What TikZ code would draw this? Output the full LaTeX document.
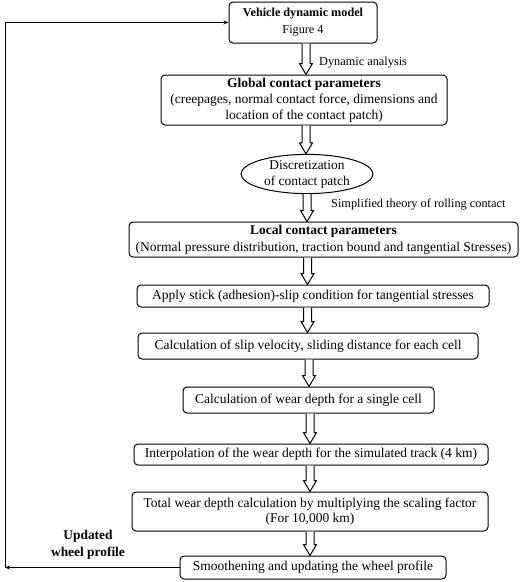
\documentclass[tikz,border=0pt]{standalone}
\usepackage{fontspec}
\setmainfont{Liberation Serif}
\usetikzlibrary{shapes.geometric,arrows.meta,calc}
\begin{document}
\begin{tikzpicture}[x=1pt,y=-1pt,
  box/.style={draw, rounded corners=4pt, line width=1pt, align=center, inner sep=0pt,
    font=\fontsize{13.5}{16}\selectfont},
  oval/.style={draw, ellipse, line width=1pt, align=center, inner sep=0pt,
    font=\fontsize{13.4}{16}\selectfont},
  lbl/.style={font=\fontsize{12.3}{14}\selectfont, inner sep=0pt, anchor=west},
  blockarrow/.style={draw, line width=1pt, fill=white,
    to path={let \p1=(\tikztostart), \p2=(\tikztotarget) in
      (\x1-4pt,\y1) -- (\x1-4pt,\y2+11pt) -- (\x1-6.5pt,\y2+11pt) -- (\x1,\y2)
      -- (\x1+6.5pt,\y2+11pt) -- (\x1+4pt,\y2+11pt) -- (\x1+4pt,\y1)}},
  loopline/.style={line width=0.8pt, -{Stealth[length=5pt,width=4pt]}}
]
\useasboundingbox (0,0) rectangle (520,582);

\node[box, minimum width=148, minimum height=41, font=\fontsize{12.2}{17}\selectfont] (vehicle) at (303,22.5)
  {\textbf{Vehicle dynamic model}\\Figure 4};
\node[box, minimum width=286, minimum height=50] (global) at (304,100)
  {\textbf{Global contact parameters}\\(creepages, normal contact force, dimensions and\\location of the contact patch)};
\node[oval, minimum width=132, minimum height=38] (disc) at (307,174)
  {Discretization\\of contact patch};
\node[box, minimum width=389, minimum height=35, font=\fontsize{13.5}{17}\selectfont] (local) at (323.5,239.5)
  {\textbf{Local contact parameters}\\(Normal pressure distribution, traction bound and tangential Stresses)};
\node[box, minimum width=352, minimum height=22] (apply) at (313,296)
  {Apply stick (adhesion)-slip condition for tangential stresses};
\node[box, minimum width=340, minimum height=26] (slip) at (308,346)
  {Calculation of slip velocity, sliding distance for each cell};
\node[box, minimum width=251, minimum height=26] (wear) at (308.5,400)
  {Calculation of wear depth for a single cell};
\node[box, minimum width=354, minimum height=21] (interp) at (311,454.5)
  {Interpolation of the wear depth for the simulated track (4 km)};
\node[box, minimum width=356, minimum height=39, font=\fontsize{13.5}{15}\selectfont] (total) at (310,511.5)
  {Total wear depth calculation by multiplying the scaling factor\\(For 10,000 km)};
\node[box, minimum width=266, minimum height=23] (smooth) at (313,567.5)
  {Smoothening and updating the wheel profile};

\node[lbl] (dynlbl) at (319,63) {Dynamic analysis};
\node[lbl] (simlbl) at (331,204) {Simplified theory of rolling contact};
\node[align=center, inner sep=0pt, font=\fontsize{13.4}{16.5}\selectfont\bfseries] (updlbl) at (88,545)
  {Updated\\wheel profile};

\draw[blockarrow] ([xshift=3pt]vehicle.south) to (global.north);
\draw[blockarrow] ([xshift=2pt]global.south) to (disc.north);
\draw[blockarrow] ([xshift=0pt]disc.south) to (local.north);
\draw[blockarrow] ([xshift=-16pt]local.south) to (apply.north);
\draw[blockarrow] ([xshift=-5.5pt]apply.south) to (slip.north);
\draw[blockarrow] ([xshift=1pt]slip.south) to (wear.north);
\draw[blockarrow] ([xshift=1.5pt]wear.south) to (interp.north);
\draw[blockarrow] ([xshift=-1pt]interp.south) to (total.north);
\draw[blockarrow] ([xshift=0pt]total.south) to (smooth.north);

\coordinate (loopc) at (5,567.5);
\draw[loopline] (smooth.west) -- (smooth.west -| loopc);
\draw[loopline] (smooth.west -| loopc) |- (vehicle.west);
\end{tikzpicture}
\end{document}
